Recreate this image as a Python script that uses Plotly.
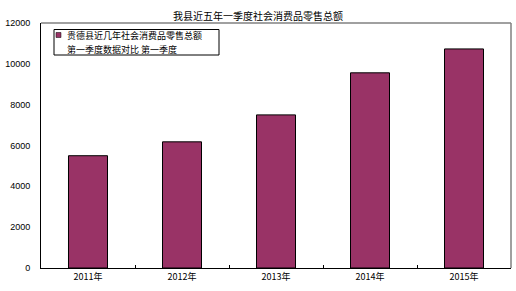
import plotly.graph_objects as go

years = ["2011年", "2012年", "2013年", "2014年", "2015年"]
values = [5500, 6180, 7500, 9560, 10730]
y_ticks = [0, 2000, 4000, 6000, 8000, 10000, 12000]
title_text = "我县近五年一季度社会消费品零售总额"
legend_lines = ["贵德县近几年社会消费品零售总额", "第一季度数据对比 第一季度"]

cjk = "Noto Sans CJK SC"
bar_color = "#993366"

# plot area in pixels (for placing the hand-drawn legend box)
L, R, T, B = 41, 511, 23, 268
def px(x):
    return (x - L) / (R - L)
def py(y):
    return (B - y) / (B - T)

fig = go.Figure()
fig.add_trace(go.Bar(
    x=years, y=values, name=legend_lines[0] + legend_lines[1],
    marker=dict(color=bar_color, line=dict(color="black", width=1)),
    showlegend=False,
))

fig.update_layout(
    width=516, height=291,
    margin=dict(l=L, r=516 - R, t=T, b=291 - B),
    paper_bgcolor="white", plot_bgcolor="white",
    bargap=0.585,
    title=dict(text=title_text, x=0.5, xanchor="center", y=1 - 16/291, yanchor="middle",
               yref="container", font=dict(family=cjk, size=10, color="black")),
    font=dict(family="Liberation Sans", size=9, color="black"),
)
fig.update_xaxes(
    showline=True, linecolor="black", linewidth=1,
    ticks="inside", ticklen=3, tickcolor="black", tickson="boundaries",
    tickfont=dict(family=cjk, size=9, color="black"),
    showgrid=False,
)
fig.update_yaxes(
    range=[0, 12000], tickvals=y_ticks, tickformat="d",
    showline=True, linecolor="black", linewidth=1,
    ticks="", ticklabelstandoff=8,
    tickfont=dict(family="Liberation Sans", size=9, color="black"),
    showgrid=False, zeroline=False,
)
# gray top and right border of the plot area
fig.add_shape(type="line", xref="paper", yref="paper", x0=0, x1=1, y0=1, y1=1,
              line=dict(color="#808080", width=1.5))
fig.add_shape(type="line", xref="paper", yref="paper", x0=1, x1=1, y0=0, y1=1,
              line=dict(color="#808080", width=1.5))

# legend box
fig.add_shape(type="rect", xref="paper", yref="paper",
              x0=px(54), x1=px(219), y0=py(55), y1=py(29.5),
              line=dict(color="black", width=1), fillcolor="white", layer="above")
fig.add_shape(type="rect", xref="paper", yref="paper",
              x0=px(56), x1=px(61), y0=py(37.5), y1=py(32.5),
              line=dict(color="black", width=0.5), fillcolor=bar_color, layer="above")
for i, line in enumerate(legend_lines):
    fig.add_annotation(text=line, xref="paper", yref="paper",
                       x=px(66), y=py(35.5 + i * 13.6), xanchor="left", yanchor="middle",
                       showarrow=False, borderpad=0,
                       font=dict(family=cjk, size=9, color="black"))

fig.write_html("out.html")
